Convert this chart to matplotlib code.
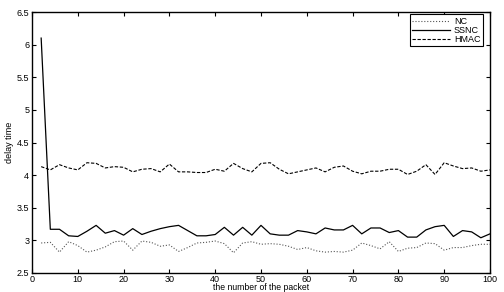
import matplotlib
matplotlib.use("Agg")
import matplotlib.pyplot as plt
import numpy as np

plt.rcParams['font.family'] = ['Liberation Sans', 'DejaVu Sans']

packets = list(range(2, 101, 2))

nc = [2.96, 2.97, 2.82, 2.98, 2.92, 2.82, 2.85, 2.90, 2.98, 2.99,
      2.85, 2.99, 2.97, 2.91, 2.93, 2.83, 2.89, 2.96, 2.97, 2.99,
      2.95, 2.81, 2.96, 2.98, 2.94, 2.95, 2.94, 2.91, 2.86, 2.89,
      2.84, 2.82, 2.83, 2.82, 2.85, 2.96, 2.92, 2.87, 2.98, 2.83,
      2.88, 2.89, 2.96, 2.95, 2.85, 2.89, 2.89, 2.92, 2.94, 2.94]

ssnc = [6.10, 3.17, 3.17, 3.07, 3.06, 3.14, 3.23, 3.11, 3.15, 3.08,
        3.18, 3.09, 3.14, 3.18, 3.21, 3.23, 3.15, 3.07, 3.07, 3.09,
        3.20, 3.08, 3.20, 3.08, 3.23, 3.10, 3.08, 3.08, 3.15, 3.13,
        3.10, 3.19, 3.16, 3.16, 3.23, 3.10, 3.19, 3.19, 3.12, 3.15,
        3.05, 3.05, 3.16, 3.21, 3.23, 3.06, 3.15, 3.13, 3.04, 3.10]

hmac = [4.13, 4.08, 4.16, 4.11, 4.08, 4.19, 4.18, 4.11, 4.13, 4.12,
        4.05, 4.09, 4.10, 4.05, 4.17, 4.05, 4.05, 4.04, 4.04, 4.09,
        4.06, 4.18, 4.10, 4.05, 4.18, 4.19, 4.09, 4.02, 4.05, 4.08,
        4.11, 4.05, 4.12, 4.14, 4.06, 4.02, 4.06, 4.06, 4.09, 4.09,
        4.01, 4.06, 4.16, 4.01, 4.19, 4.14, 4.10, 4.11, 4.06, 4.08]

xticks = list(range(0, 101, 10))
yticks = [2.5, 3, 3.5, 4, 4.5, 5, 5.5, 6, 6.5]
ytick_labels = ['2.5', '3', '3.5', '4', '4.5', '5', '5.5', '6', '6.5']

fig = plt.figure(figsize=(5.04, 2.92), dpi=100)
ax = fig.add_axes([32/504, 1 - 273/292, (490-32)/504, (273-12)/292])

ax.plot(packets, nc, linestyle=':', color='#555555', linewidth=0.8, label='NC')
ax.plot(packets, ssnc, linestyle='-', color='black', linewidth=0.9, label='SSNC')
ax.plot(packets, hmac, linestyle=(0, (3, 1.5)), color='black', linewidth=0.8, label='HMAC')

ax.set_xlim(0, 100)
ax.set_ylim(2.5, 6.5)
ax.set_xticks(xticks)
ax.set_xticklabels([str(t) for t in xticks])
ax.set_yticks(yticks)
ax.set_yticklabels(ytick_labels)
ax.tick_params(direction='in', length=3, width=0.8, labelsize=6.5, top=True, right=True, pad=2)
ax.tick_params(axis='x', pad=1.2)
for s in ax.spines.values():
    s.set_linewidth(1.0)

ax.set_xlabel('the number of the packet', fontsize=6.2, labelpad=-0.6)
ax.set_ylabel('delay time', fontsize=6.5, labelpad=2)

leg = ax.legend(loc='upper right', fontsize=6.5, frameon=True, fancybox=False,
                edgecolor='black', framealpha=1, handlelength=4.2, handletextpad=0.4,
                borderpad=0.3, labelspacing=0.0,
                bbox_to_anchor=(483/504, 1 - 14/292), bbox_transform=fig.transFigure,
                borderaxespad=0)
leg.get_frame().set_linewidth(0.8)

fig.savefig('out.png', dpi=100)
